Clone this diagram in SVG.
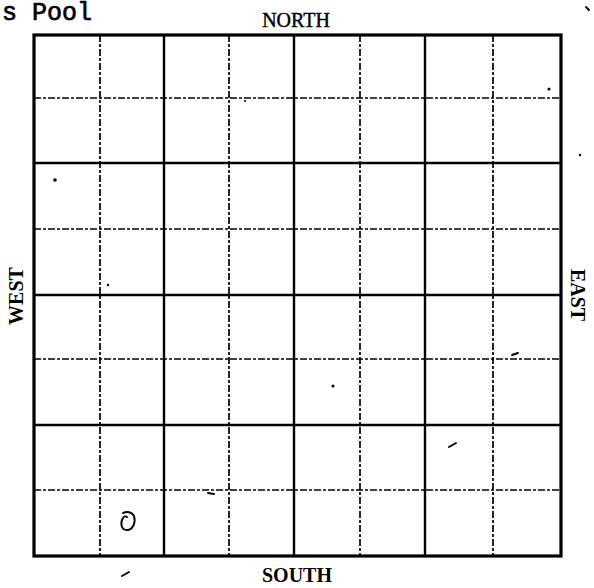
<svg xmlns="http://www.w3.org/2000/svg" width="594" height="588" viewBox="0 0 594 588">
<style>
.bg{fill:#fff}
.dash{stroke:#000;stroke-width:1.7;stroke-dasharray:7 2 3 2;fill:none}
.solid{stroke:#000;stroke-width:2.4;fill:none}
.border{stroke:#000;stroke-width:3.2;fill:none}
.lbl{font-family:"Liberation Serif",serif;font-weight:bold;font-size:20px;fill:#000}
.title{font-family:"Liberation Mono",monospace;font-size:25px;fill:#000;stroke:#000;stroke-width:0.7}
.speck{fill:#000}
.mark{stroke:#000;stroke-width:1.9;fill:none;stroke-linecap:round}
</style>
<rect class="bg" x="0" y="0" width="594" height="588"/>
<text id="title" class="title" x="2" y="20">s Pool</text>
<g id="grid">
<g id="dashed-lines">
<line class="dash" x1="100" y1="35" x2="100" y2="556"/>
<line class="dash" x1="229" y1="35" x2="229" y2="556"/>
<line class="dash" x1="360" y1="35" x2="360" y2="556"/>
<line class="dash" x1="493" y1="35" x2="493" y2="556"/>
<line class="dash" x1="34" y1="98" x2="561" y2="98"/>
<line class="dash" x1="34" y1="229" x2="561" y2="229"/>
<line class="dash" x1="34" y1="359" x2="561" y2="359"/>
<line class="dash" x1="34" y1="490" x2="561" y2="490"/>
</g>
<g id="solid-lines">
<line class="solid" x1="164" y1="35" x2="164" y2="556"/>
<line class="solid" x1="294" y1="35" x2="294" y2="556"/>
<line class="solid" x1="425" y1="35" x2="425" y2="556"/>
<line class="solid" x1="34" y1="163" x2="561" y2="163"/>
<line class="solid" x1="34" y1="295" x2="561" y2="295"/>
<line class="solid" x1="34" y1="425" x2="561" y2="425"/>
</g>
<rect id="border" class="border" x="34" y="35" width="527" height="521"/>
</g>
<g id="labels">
<text id="north" class="lbl" x="296" y="27" text-anchor="middle" style="font-weight:normal;stroke:#000;stroke-width:0.4">NORTH</text>
<text id="south" class="lbl" x="297" y="582" text-anchor="middle">SOUTH</text>
<text id="west" class="lbl" x="0" y="0" text-anchor="middle" transform="translate(23,296) rotate(-90)">WEST</text>
<text id="east" class="lbl" x="0" y="0" text-anchor="middle" transform="translate(571,295) rotate(90)">EAST</text>
</g>
<g id="marks">
<path class="mark" d="M123,513 C127,511 132,512 134,516 C136,522 133,530 127,530 C121,530 120,523 123,518 C124,516 126,516 127,517"/>
<path class="mark" d="M122,576 L129,572"/>
<path class="mark" d="M208,493 L214,494"/>
<path class="mark" d="M449,447 L456,443"/>
<path class="mark" d="M512,355 L518,353"/>
<circle class="speck" cx="55" cy="180" r="1.8"/>
<circle class="speck" cx="108" cy="285" r="1.2"/>
<circle class="speck" cx="245" cy="101" r="1.1"/>
<circle class="speck" cx="549" cy="89" r="1.5"/>
<circle class="speck" cx="580" cy="155" r="1.2"/>
<circle class="speck" cx="333" cy="386" r="1.5"/>
<path class="mark" d="M586,7 L589,10"/>
</g>
</svg>
